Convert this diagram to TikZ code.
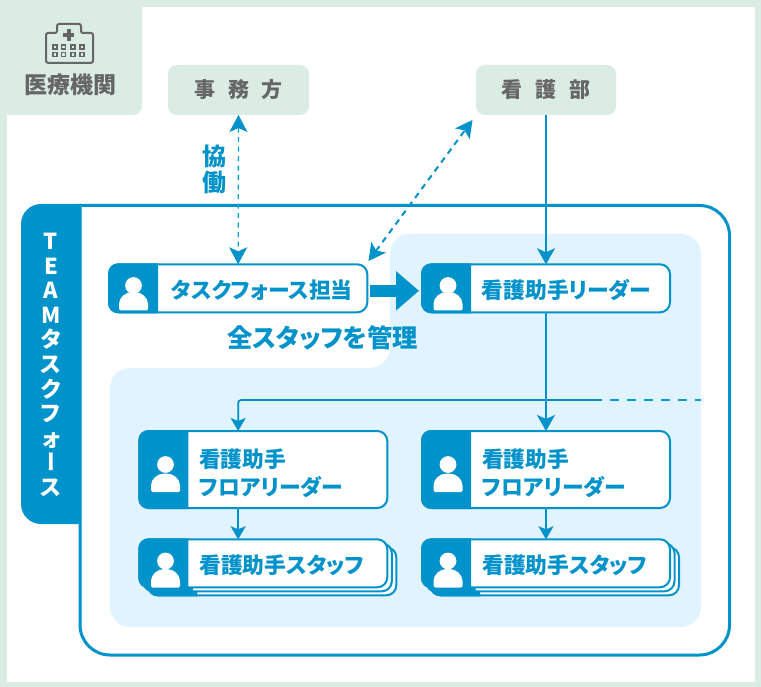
\documentclass[tikz,border=0pt]{standalone}
\usepackage{fontspec}
\usetikzlibrary{arrows.meta,calc}
\setmainfont{Noto Sans CJK JP}[RawFeature=+palt]
\newfontfamily\vertjp{Noto Sans CJK JP}[RawFeature=+vert]
\definecolor{mainblue}{HTML}{0092CA}
\definecolor{dashblue}{HTML}{00A0DC}
\definecolor{paleblue}{HTML}{E1F3FE}
\definecolor{palegreen}{HTML}{DBECE5}
\definecolor{darkgray}{HTML}{666666}
\newcommand{\fsz}[1]{\fontsize{#1}{#1}\selectfont\bfseries}
\newcommand{\personicon}[3]{% centre x, head centre y, body bottom y
  \fill[white] (#1,#2) circle[radius=8.4];
  \fill[white,rounded corners=1.5] (#1-14.5,#3) -- (#1-14.5,#3-5)
     .. controls (#1-14.5,#3-13) and (#1-8,#3-18.5) .. (#1,#3-18.5)
     .. controls (#1+8,#3-18.5) and (#1+14.5,#3-13) .. (#1+14.5,#3-5)
     -- (#1+14.5,#3) -- cycle;}
\newcommand{\iconstrip}[3]{% left x, top y, bottom y
  \fill[mainblue] (#1+50,#2) [rounded corners=10] -- (#1,#2) -- (#1,#3) [sharp corners] -- (#1+50,#3) -- cycle;}
\tikzset{
  x=1pt,y=-1pt,
  card/.style={draw=mainblue,fill=white,line width=2pt,rounded corners=10pt,inner sep=0pt,outer sep=0pt,anchor=north west,minimum width=248pt},
  shortcard/.style={card,minimum height=48pt},
  tallcard/.style={card,minimum height=77pt},
  cardtext/.style={text=mainblue,anchor=west,inner sep=0pt,align=left,font=\fsz{21.8}},
  labelbox/.style={fill=palegreen,rounded corners=9pt,inner sep=0pt,outer sep=0pt,anchor=north west,minimum width=141pt,minimum height=50pt,text=darkgray,font=\fsz{21}},
  conn/.style={draw=mainblue,line width=1.8pt,-{Stealth[length=16pt,width=18pt,inset=4pt]}},
  smallconn/.style={draw=mainblue,line width=1.8pt,-{Stealth[length=13pt,width=15pt,inset=3pt]}},
  dashconn/.style={draw=dashblue,line width=1.3pt,dash pattern=on 5pt off 4.5pt,{Stealth[length=17pt,width=18pt,inset=4pt,mainblue]}-{Stealth[length=17pt,width=18pt,inset=4pt,mainblue]}},
  diagconn/.style={draw=mainblue,line width=2pt,dash pattern=on 6pt off 5pt,{Stealth[length=17pt,width=18pt,inset=4pt]}-{Stealth[length=17pt,width=18pt,inset=4pt]}},
  hospline/.style={draw=darkgray,line width=2pt,rounded corners=2pt},
}
\begin{document}
\begin{tikzpicture}
\useasboundingbox (0,0) rectangle (761,687);
% frame
\fill[palegreen] (0,0) rectangle (761,687);
\fill[white] (7,7) rectangle (755,682);
\fill[palegreen] (0,0) -- (142,0) [rounded corners=9] -- (142,115) -- (0,115) [sharp corners] -- cycle;
% hospital icon
\draw[hospline] (46,33) -- (57,33) -- (57,24) -- (81,24) -- (81,33) -- (93,33) -- (93,62.8) -- (46,62.8) -- cycle;
\fill[darkgray] (66.8,29.3) rectangle (70.8,40.7);
\fill[darkgray] (63.2,33) rectangle (74.4,37);
\foreach \wx in {55,63.5,73,82} \foreach \wy in {47,54.5}
  \draw[darkgray,line width=1.2pt] (\wx-2,\wy-2) rectangle (\wx+2,\wy+2);
\node[text=darkgray,font=\fsz{23},inner sep=0pt] (hosp) at (70.5,85) {医療機関};
% team box
\draw[mainblue,line width=3pt] (80,205.5) [rounded corners=30pt] -- (729.5,205.5) -- (729.5,655) -- (80,655) [sharp corners] -- cycle;
\fill[mainblue] (81,204) [rounded corners=20] -- (21,204) -- (21,524) [sharp corners] -- (81,524) -- cycle;
\node[text=white,font=\fontsize{22}{24.6}\selectfont\bfseries,align=center,inner sep=0pt,anchor=north] (team) at (51,233)
  {T\\E\\A\\M\\タ\\ス\\ク\\フ\\ォ\\{\vertjp\bfseries ー}\\ス};
% pale area
\fill[paleblue] (390,368) [rounded corners=20] -- (390,234) -- (701,234) -- (701,627) -- (110,627) -- (110,368) -- cycle;
\fill[paleblue] (390,368) -- (390,348) .. controls (390,359) and (381,368) .. (370,368) -- cycle;
% top labels
\node[labelbox] (jimu) at (168,65) {事\hspace{13pt}務\hspace{13pt}方};
\node[labelbox,minimum width=140pt] (kango) at (476,65) {看\hspace{13pt}護\hspace{13pt}部};
% cards
\node[shortcard,minimum width=258.3pt] (task) at (109,264.3) {};
\iconstrip{108}{263.3}{313.3}
\personicon{133.5}{285.5}{310.5}
\node[cardtext] (tasktxt) at (171,290.5) {タスクフォース担当};

\node[shortcard] (lead) at (422,264.3) {};
\iconstrip{421}{263.3}{313.3}
\personicon{448}{285.5}{310.5}
\node[cardtext] (leadtxt) at (481.5,290.5) {看護助手リーダー};

\node[tallcard] (floorA) at (139.3,431) {};
\iconstrip{138.3}{430}{509}
\personicon{165.5}{464.5}{492}
\node[cardtext] (floorAtxt) at (199,473.5) {\rule{0pt}{16pt}\fsz{21.7}看護助手\\[6pt]フロアリーダー};

\node[tallcard] (floorB) at (422,431) {};
\iconstrip{421}{430}{509}
\personicon{448}{464.5}{492}
\node[cardtext] (floorBtxt) at (482,473.5) {\rule{0pt}{16pt}\fsz{21.7}看護助手\\[6pt]フロアリーダー};

% staff stacks
\foreach \bx/\nm in {139.3/staffA,422/staffB}{
  \node[shortcard] (\nm c) at (\bx+9,547.3) {};
  \iconstrip{\bx+8}{546.3}{596.3}
  \node[shortcard] (\nm b) at (\bx+4.5,543.3) {};
  \iconstrip{\bx+3.5}{542.3}{592.3}
  \node[shortcard] (\nm) at (\bx,539.3) {};
  \iconstrip{\bx-1}{538.3}{588.3}
}
\personicon{165.5}{561}{587.5}
\node[cardtext] (staffAtxt) at (199,565) {看護助手スタッフ};
\personicon{448}{561}{587.5}
\node[cardtext] (staffBtxt) at (482,565) {看護助手スタッフ};
% free labels
\node[text=mainblue,font=\fsz{25.3},inner sep=0pt,anchor=west] (mgmt) at (227,338) {全スタッフを管理};
\node[text=mainblue,font=\fontsize{24}{26}\selectfont\bfseries,align=center,inner sep=0pt] (kyo) at (214.5,169) {協\\働};
% coordinates
\coordinate (branch) at (lead.south |- 0,400);
\coordinate (dashstart) at (602,400);
\coordinate (dashend) at (701,400);
\coordinate (diagA) at (368.5,261);
\coordinate (diagB) at (472.5,120);
\coordinate (floorAin) at (task.north |- floorA.north);
\coordinate (floorAout) at (task.north |- floorA.south);
\coordinate (staffAin) at (task.north |- staffA.north);
% connectors
\draw[dashconn] (jimu.south) -- (task.north);
\draw[diagconn] (diagA) -- (diagB);
\draw[conn] (kango.south) -- (lead.north);
\draw[conn] (lead.south) -- (floorB.north);
\draw[draw=mainblue,line width=1.8pt] (branch) -- (dashstart);
\draw[draw=mainblue,line width=1.8pt,rounded corners=3pt,-{Stealth[length=13pt,width=15pt,inset=3pt]}] (branch) -- (floorAin |- branch) -- (floorAin);
\draw[draw=dashblue,line width=1.4pt,dash pattern=on 9pt off 8pt,dash phase=9pt] (dashstart) -- (dashend);
\draw[smallconn] (floorAout) -- (staffAin);
\draw[smallconn] (floorB.south) -- (staffB.north);
\draw[draw=mainblue,line width=12pt,-{Triangle[length=23pt,width=38pt]}] ($(task.east)+(3,2.5)$) -- ($(lead.west)+(-3,2.5)$);
\end{tikzpicture}
\end{document}
